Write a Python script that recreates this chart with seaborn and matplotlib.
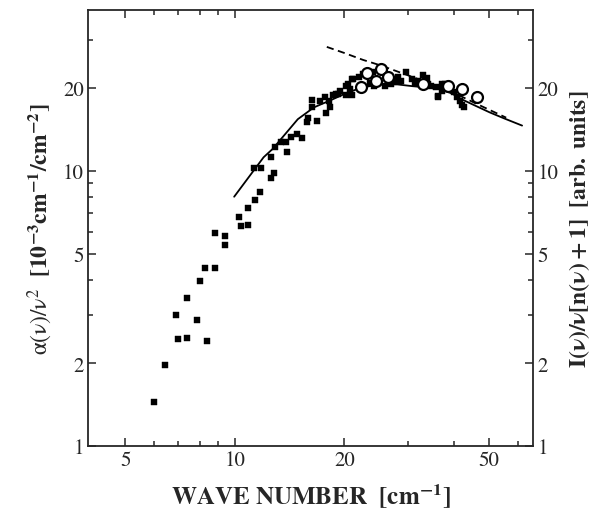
import numpy as np
import pandas as pd
import seaborn as sns
import matplotlib
matplotlib.use("Agg")
import matplotlib.pyplot as plt
from matplotlib.ticker import FixedLocator, NullFormatter, FixedFormatter

# ---------------- data ----------------
sq_x = [5.98, 6.43, 6.90, 6.96, 7.40, 7.37, 7.85, 8.03, 8.38, 8.29, 8.81, 8.81,
        9.40, 9.40, 10.3, 10.4, 10.85, 10.9, 11.4, 11.7, 12.6, 12.8, 11.3, 11.8,
        12.6, 12.9, 13.4, 13.8, 13.9, 14.3, 14.8, 15.3, 15.8, 15.9, 16.8, 16.3,
        16.3, 17.2, 17.7, 17.8, 18.3, 18.2, 18.6, 19.0, 19.2, 19.4, 20.2, 20.7,
        21.1, 22.0, 22.5, 23.5, 24.0, 24.2, 25.8, 26.9, 27.5, 28.1, 28.7, 29.6,
        30.6, 31.3, 31.9, 33.0, 33.7, 34.0, 34.7, 35.8, 36.2, 37.0, 37.8, 38.9,
        40.1, 40.9, 41.7, 41.7, 42.0, 42.7, 20.2, 21.0, 20.5, 21.0, 37.0, 36.2]
sq_y = [1.45, 1.97, 2.99, 2.44, 2.46, 3.45, 2.87, 3.97, 2.40, 4.45, 4.42, 5.93,
        5.80, 5.38, 6.79, 6.31, 6.33, 7.32, 7.83, 8.36, 9.41, 9.81, 10.2, 10.2,
        11.2, 12.2, 12.7, 12.7, 11.7, 13.3, 13.6, 13.2, 15.1, 15.6, 15.2, 17.1,
        18.1, 18.0, 18.5, 16.2, 17.1, 18.0, 18.8, 19.0, 19.0, 19.5, 20.4, 19.8,
        21.5, 21.9, 22.5, 20.9, 22.8, 20.4, 20.4, 20.6, 21.2, 21.9, 21.2, 22.8,
        21.5, 20.9, 21.2, 22.2, 21.7, 20.6, 20.4, 20.1, 18.7, 19.5, 20.6, 20.1,
        19.3, 18.5, 19.8, 18.0, 17.3, 17.0, 18.8, 18.8, 20.6, 21.5, 20.6, 18.5]

circ_x = [22.2, 23.1, 24.5, 25.3, 26.4, 33.0, 38.6, 42.0, 46.3]
circ_y = [20.1, 22.7, 21.2, 23.4, 21.9, 20.7, 20.4, 19.8, 18.6]

solid_x = [9.96, 11.0, 12.0, 12.7, 13.5, 14.9, 16.5, 18.6, 20.5, 22.5, 25.0,
           28.0, 30.8, 33.5, 36.6, 39.5, 42.0, 46.0, 50.2, 55.0, 61.6]
solid_y = [8.05, 9.6, 11.2, 12.0, 13.2, 15.4, 17.0, 18.2, 19.3, 20.1, 20.6,
           20.6, 20.3, 20.1, 19.8, 19.1, 18.2, 17.2, 16.3, 15.5, 14.6]

dash_x = [17.9, 20.0, 22.5, 25.3, 30.0, 35.0, 40.0, 47.1, 55.7]
dash_y = [28.2, 26.8, 25.3, 24.1, 22.2, 20.6, 19.2, 17.3, 15.6]

y_major = [1, 2, 5, 10, 20]
y_minor = [3, 4, 6, 7, 8, 9, 30]
x_major = [5, 10, 20, 50]
x_minor = [6, 7, 8, 9, 30, 40, 60]

# ---------------- style ----------------
sns.set_style("ticks")
plt.rcParams['font.family'] = ['STIXGeneral', 'DejaVu Serif']
plt.rcParams['mathtext.fontset'] = 'stix'

fig = plt.figure(figsize=(6.05, 5.10), dpi=100)
ax = fig.add_axes([88 / 605, 1 - 447 / 510, (533 - 88) / 605, (447 - 11) / 510])

sq = pd.DataFrame({"x": sq_x, "y": sq_y})
ci = pd.DataFrame({"x": circ_x, "y": circ_y})
so = pd.DataFrame({"x": solid_x, "y": solid_y})
da = pd.DataFrame({"x": dash_x, "y": dash_y})

sns.lineplot(data=so, x="x", y="y", ax=ax, color="black", lw=1.3, sort=True,
             estimator=None)
sns.lineplot(data=da, x="x", y="y", ax=ax, color="black", lw=1.3, sort=True,
             estimator=None, linestyle=(0, (4, 2.5)))
sns.scatterplot(data=sq, x="x", y="y", ax=ax, marker="s", s=20, color="black",
                edgecolor="black", linewidth=0.3, zorder=3)
sns.scatterplot(data=ci, x="x", y="y", ax=ax, marker="o", s=62, facecolor="white",
                edgecolor="black", linewidth=1.6, zorder=4)

ax.set_xscale("log")
ax.set_yscale("log")
ax.set_xlim(3.95, 66)
ax.set_ylim(1, 38.4)

ax.xaxis.set_major_locator(FixedLocator(x_major))
ax.xaxis.set_major_formatter(FixedFormatter([str(v) for v in x_major]))
ax.xaxis.set_minor_locator(FixedLocator(x_minor))
ax.xaxis.set_minor_formatter(NullFormatter())
ax.yaxis.set_major_locator(FixedLocator(y_major))
ax.yaxis.set_major_formatter(FixedFormatter([str(v) for v in y_major]))
ax.yaxis.set_minor_locator(FixedLocator(y_minor))
ax.yaxis.set_minor_formatter(NullFormatter())

ax.tick_params(which="both", direction="in", top=True, right=True,
               labelright=True, labelsize=15, width=1.1, pad=3)
ax.tick_params(which="major", length=6)
ax.tick_params(which="minor", length=3.5)
for s in ax.spines.values():
    s.set_linewidth(1.3)
    s.set_visible(True)

ax.set_xlabel(r"WAVE NUMBER  [cm$^{\mathbf{-1}}$]", fontsize=18,
              fontweight="bold", labelpad=8)
ax.set_ylabel(r"$\mathrm{\alpha(\nu)/\nu^2}$  $\mathbf{[10^{-3}cm^{-1}/cm^{-2}]}$",
              fontsize=17, labelpad=6)
ax.text(1.105, 0.5, r"$\mathbf{I(\nu)/\nu[n(\nu)+1]}$  $\mathbf{[arb.\ units]}$",
        rotation=90, transform=ax.transAxes, ha="center", va="center",
        fontsize=17)

fig.savefig("out.png", dpi=100)
